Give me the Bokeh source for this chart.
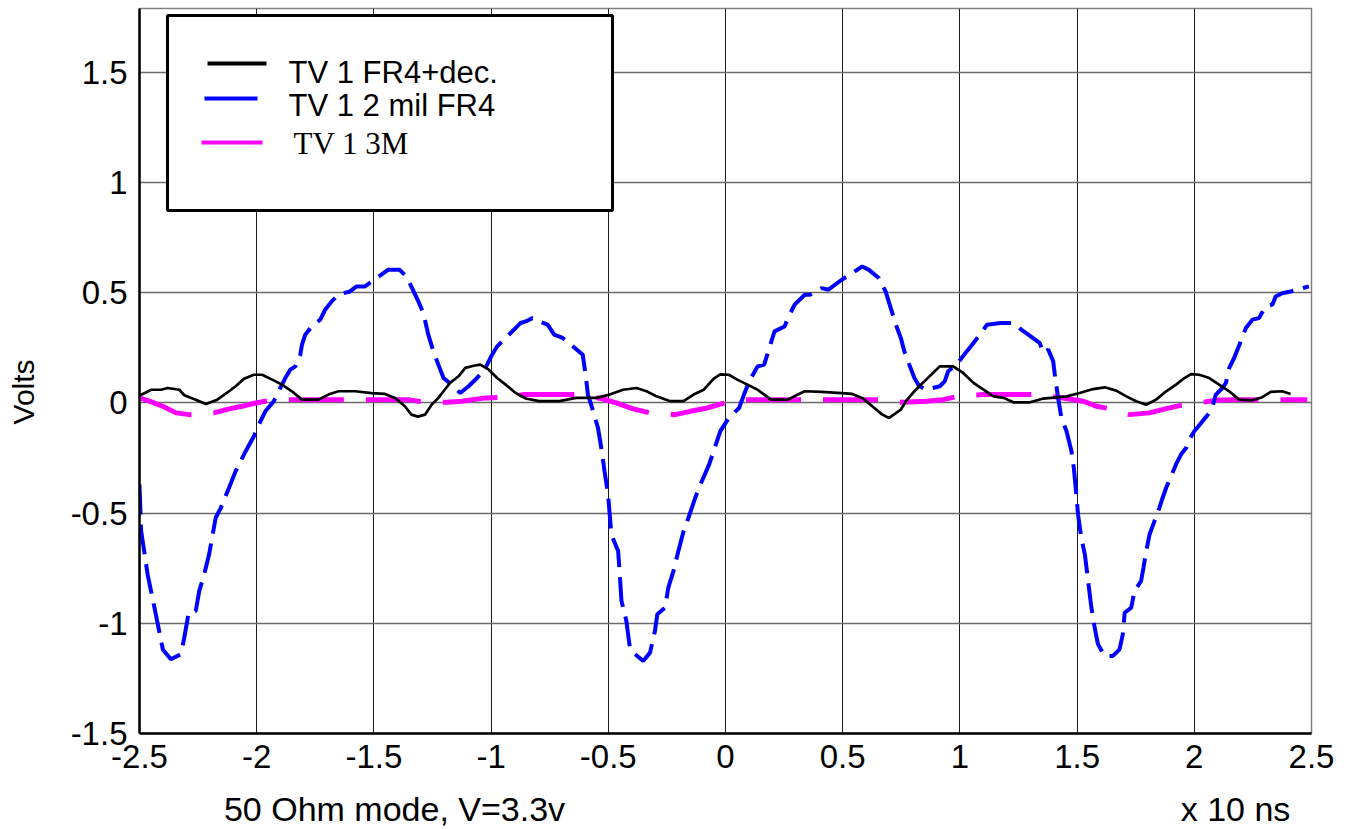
import math
from bokeh.plotting import figure
from bokeh.models import ColumnDataSource, FixedTicker, Label, BoxAnnotation, LinearAxis
from bokeh.embed import file_html
from bokeh.resources import INLINE

# ---------------- data ----------------
x_ticks = [-2.5, -2.0, -1.5, -1.0, -0.5, 0.0, 0.5, 1.0, 1.5, 2.0, 2.5]
x_tick_labels = ["-2.5", "-2", "-1.5", "-1", "-0.5", "0", "0.5", "1", "1.5", "2", "2.5"]
y_ticks = [-1.5, -1.0, -0.5, 0.0, 0.5, 1.0, 1.5]
y_tick_labels = ["-1.5", "-1", "-0.5", "0", "0.5", "1", "1.5"]

# bottom captions and where (in x units) they sit under the axis
caption_texts = ["50 Ohm mode, V=3.3v", "x 10 ns"]
caption_pos = [-1.412, 2.176]
# y title and where (in y units) it sits
y_title = "Volts"
y_title_pos = 0.05

series_names = ["TV 1   FR4+dec.", "TV 1  2 mil FR4", "TV 1  3M"]

blue_x = [-2.5, -2.493, -2.465, -2.436, -2.4, -2.366, -2.323, -2.309, -2.29, -2.26, -2.245, -2.224,
          -2.203, -2.175, -2.153, -2.118, -2.09, -2.047, -2.012, -1.984, -1.963, -1.927, -1.899,
          -1.878, -1.857, -1.835, -1.814, -1.807, -1.793, -1.765, -1.729, -1.708, -1.68, -1.651,
          -1.63, -1.602, -1.574, -1.538, -1.489, -1.44, -1.39, -1.362, -1.334, -1.31, -1.289,
          -1.268, -1.246, -1.225, -1.203, -1.168, -1.132, -1.096, -1.06, -1.024, -0.996, -0.974,
          -0.938, -0.903, -0.874, -0.852, -0.824, -0.795, -0.759, -0.731, -0.695, -0.659, -0.609,
          -0.595, -0.587, -0.573, -0.544, -0.53, -0.516, -0.501, -0.494, -0.487, -0.458, -0.451,
          -0.444, -0.423, -0.408, -0.394, -0.351, -0.322, -0.301, -0.291, -0.258, -0.244, -0.222,
          -0.201, -0.179, -0.158, -0.129, -0.107, -0.07, -0.045, -0.022, 0.014, 0.058, 0.079,
          0.101, 0.137, 0.165, 0.187, 0.209, 0.252, 0.273, 0.295, 0.338, 0.36, 0.41, 0.439, 0.496,
          0.54, 0.583, 0.612, 0.655, 0.683, 0.705, 0.727, 0.748, 0.763, 0.784, 0.806, 0.827, 0.856,
          0.914, 0.935, 0.95, 0.986, 1.029, 1.058, 1.079, 1.101, 1.115, 1.173, 1.228, 1.263, 1.292,
          1.341, 1.355, 1.377, 1.398, 1.405, 1.419, 1.433, 1.455, 1.476, 1.486, 1.494, 1.504, 1.518,
          1.533, 1.547, 1.561, 1.575, 1.589, 1.618, 1.653, 1.681, 1.695, 1.703, 1.731, 1.745, 1.773,
          1.783, 1.795, 1.809, 1.83, 1.851, 1.865, 1.88, 1.901, 1.922, 1.943, 1.965, 1.979, 2.0,
          2.035, 2.064, 2.078, 2.092, 2.12, 2.135, 2.149, 2.17, 2.198, 2.22, 2.248, 2.276, 2.304,
          2.333, 2.347, 2.375, 2.411, 2.489]
blue_y = [-0.37, -0.58, -0.78, -0.93, -1.12, -1.163, -1.14, -1.065, -0.95, -0.944, -0.853, -0.778,
          -0.687, -0.521, -0.476, -0.385, -0.31, -0.219, -0.151, -0.083, -0.038, 0.008, 0.068,
          0.113, 0.151, 0.166, 0.219, 0.264, 0.31, 0.347, 0.378, 0.423, 0.461, 0.491,
          0.498, 0.506, 0.529, 0.529, 0.566, 0.604, 0.604, 0.574, 0.514, 0.46, 0.408,
          0.31, 0.234, 0.174, 0.113, 0.083, 0.045, 0.076, 0.113, 0.159, 0.219, 0.257,
          0.295, 0.332, 0.363, 0.37, 0.385, 0.37, 0.355, 0.31, 0.295, 0.264, 0.219,
          0.113, 0.038, -0.008, -0.113, -0.204, -0.31, -0.415, -0.506, -0.597, -0.672, -0.778,
          -0.897, -0.989, -1.11, -1.133, -1.171, -1.133, -1.035, -0.959, -0.929, -0.838, -0.763,
          -0.672, -0.582, -0.521, -0.43, -0.37, -0.28, -0.2, -0.128, -0.068, -0.023, 0.038,
          0.098, 0.166, 0.174, 0.249, 0.325, 0.347, 0.4, 0.446, 0.491, 0.491, 0.521, 0.514, 0.559,
          0.589, 0.619, 0.604, 0.566, 0.506, 0.43, 0.355, 0.295, 0.234, 0.174, 0.113, 0.076, 0.06,
          0.076, 0.098, 0.144, 0.174, 0.234, 0.272, 0.302, 0.332, 0.355, 0.363, 0.363, 0.332, 0.31,
          0.272, 0.227, 0.242, 0.189, 0.128, 0.023, -0.068, -0.128, -0.219, -0.295, -0.385, -0.506, -0.612,
          -0.687, -0.808, -0.929, -1.02, -1.095, -1.148, -1.148, -1.118, -1.05, -0.952, -0.929, -0.853, -0.808,
          -0.748, -0.672, -0.597, -0.536, -0.476, -0.43, -0.385, -0.332, -0.279, -0.234, -0.204, -0.166, -0.128,
          -0.083, -0.045, -0.015, 0.038, 0.068, 0.091, 0.159, 0.204, 0.279, 0.34, 0.378, 0.385, 0.438,
          0.446, 0.483, 0.498, 0.506, 0.529]

black_x = [-2.5, -2.486, -2.45, -2.408, -2.38, -2.33, -2.309, -2.26, -2.217, -2.168, -2.118, -2.09,
           -2.054, -2.012, -1.977, -1.934, -1.892, -1.85, -1.807, -1.736, -1.694, -1.651, -1.58,
           -1.51, -1.453, -1.41, -1.368, -1.34, -1.312, -1.282, -1.254, -1.225, -1.203, -1.175,
           -1.139, -1.11, -1.074, -1.046, -1.01, -0.974, -0.938, -0.895, -0.852, -0.795, -0.709,
           -0.638, -0.552, -0.494, -0.437, -0.38, -0.337, -0.294, -0.236, -0.179, -0.136, -0.093,
           -0.05, -0.022, 0.014, 0.05, 0.094, 0.137, 0.165, 0.194, 0.266, 0.309, 0.338, 0.41, 0.496,
           0.54, 0.583, 0.626, 0.669, 0.698, 0.748, 0.77, 0.799, 0.827, 0.856, 0.885, 0.914, 0.971,
           1.014, 1.058, 1.101, 1.144, 1.187, 1.228, 1.299, 1.356, 1.455, 1.511, 1.568, 1.618, 1.667,
           1.71, 1.752, 1.795, 1.837, 1.88, 1.922, 1.958, 1.986, 2.021, 2.064, 2.106, 2.149, 2.191,
           2.248, 2.29, 2.326, 2.375, 2.411]
black_y = [0.035, 0.041, 0.06, 0.06, 0.068, 0.06, 0.035, 0.015, -0.005, 0.015, 0.053, 0.076,
           0.11, 0.128, 0.128, 0.106, 0.083, 0.053, 0.015, 0.015, 0.038, 0.053, 0.053,
           0.045, 0.041, 0.023, -0.015, -0.053, -0.062, -0.053, -0.008, 0.023, 0.053, 0.091,
           0.121, 0.159, 0.169, 0.174, 0.151, 0.113, 0.083, 0.045, 0.02, 0.008, 0.008,
           0.023, 0.023, 0.038, 0.06, 0.068, 0.053, 0.03, 0.008, 0.008, 0.038, 0.06,
           0.11, 0.13, 0.128, 0.106, 0.083, 0.06, 0.038, 0.015, 0.015, 0.038, 0.053, 0.05, 0.045,
           0.041, 0.023, -0.015, -0.053, -0.068, -0.03, 0.008, 0.045, 0.076, 0.106, 0.136, 0.166, 0.166,
           0.136, 0.091, 0.06, 0.03, 0.023, 0.003, 0.003, 0.02, 0.03, 0.045, 0.063, 0.071, 0.056,
           0.03, 0.008, -0.008, 0.015, 0.053, 0.083, 0.113, 0.131, 0.128, 0.113, 0.083, 0.053, 0.015,
           0.012, 0.026, 0.05, 0.053, 0.041]

magenta_x = [-2.5, -2.458, -2.401, -2.344, -2.288, -2.182, -2.118, -2.062, -2.005, -1.963, -1.871,
             -1.623, -1.524, -1.355, -1.3, -1.189, -1.125, -1.024, -0.953, -0.86, -0.616, -0.523,
             -0.466, -0.394, -0.322, -0.215, -0.15, -0.079, -0.021, 0.058, 0.309, 0.41, 0.662,
             0.755, 0.856, 0.928, 0.993, 1.101, 1.32, 1.419, 1.525, 1.582, 1.639, 1.724, 1.809,
             1.88, 1.943, 2.035, 2.092, 2.163, 2.269, 2.375, 2.482]
magenta_y = [0.023, 0.008, -0.015, -0.045, -0.053, -0.045, -0.027, -0.015, 0.0, 0.008, 0.015,
             0.015, 0.015, 0.015, 0.006, 0.003, 0.008, 0.023, 0.026, 0.038, 0.038, 0.018,
             0.0, -0.027, -0.045, -0.053, -0.038, -0.023, -0.005, 0.015, 0.015, 0.015, 0.015,
             0.003, 0.008, 0.015, 0.03, 0.038, 0.038, 0.026, 0.008, -0.015, -0.026, -0.053, -0.045,
             -0.026, -0.011, 0.003, 0.012, 0.015, 0.015, 0.015, 0.015]

# ---------------- figure ----------------
p = figure(frame_width=1172, frame_height=725, x_range=(-2.5, 2.5), y_range=(-1.5, 1.79),
           output_backend="svg", toolbar_location=None,
           min_border_left=139, min_border_right=41, min_border_top=8, min_border_bottom=96)
p.background_fill_color = "white"
p.border_fill_color = "white"
p.outline_line_color = "#808080"
p.outline_line_width = 1.5

p.xaxis.ticker = FixedTicker(ticks=x_ticks)
p.yaxis.ticker = FixedTicker(ticks=y_ticks)
p.xaxis.major_label_overrides = {t: l for t, l in zip(x_ticks, x_tick_labels)}
p.yaxis.major_label_overrides = {t: l for t, l in zip(y_ticks, y_tick_labels)}

for ax in (p.xaxis[0], p.yaxis[0]):
    ax.axis_line_color = "black"
    ax.axis_line_width = 2.5
    ax.major_tick_in = 0
    ax.major_tick_out = 0
    ax.minor_tick_line_color = None
    ax.major_label_text_font = "Liberation Sans"
    ax.major_label_text_font_size = "33px"
    ax.major_label_text_color = "black"
p.xaxis.major_label_standoff = 11
p.yaxis.major_label_standoff = 12


# tick-less helper axes that carry the titles at the reference's positions
def title_axis(pos, texts, size, standoff, orientation="horizontal"):
    ax = LinearAxis(ticker=FixedTicker(ticks=pos),
                    major_label_overrides={t: s for t, s in zip(pos, texts)})
    ax.axis_line_color = None
    ax.major_tick_line_color = None
    ax.minor_tick_line_color = None
    ax.major_tick_in = 0
    ax.major_tick_out = 0
    ax.major_label_standoff = standoff
    ax.major_label_orientation = orientation
    ax.major_label_text_font = "Liberation Sans"
    ax.major_label_text_font_size = size
    ax.major_label_text_color = "black"
    return ax


p.add_layout(title_axis(caption_pos, caption_texts, "34px", 19), "below")
p.add_layout(title_axis([y_title_pos], [y_title], "30px", 27, "vertical"), "left")

p.xgrid.grid_line_color = "#1a1a1a"
p.xgrid.grid_line_width = 1
p.ygrid.grid_line_color = "#6a6a6a"
p.ygrid.grid_line_width = 1.5

src_m = ColumnDataSource(dict(x=magenta_x, y=magenta_y))
src_b = ColumnDataSource(dict(x=blue_x, y=blue_y))
src_k = ColumnDataSource(dict(x=black_x, y=black_y))

p.line("x", "y", source=src_m, line_color="#ff00ff", line_width=5, line_dash="55 22")
p.line("x", "y", source=src_b, line_color="#0000ff", line_width=4, line_dash="30 10")
p.line("x", "y", source=src_k, line_color="black", line_width=2.7)

# ---------------- legend (manual) ----------------
p.add_layout(BoxAnnotation(left=28, right=473, top=718, bottom=523,
                           left_units="screen", right_units="screen",
                           top_units="screen", bottom_units="screen",
                           fill_color="white", fill_alpha=1.0,
                           line_color="black", line_width=3, line_alpha=1.0))
sample_colors = ["black", "#0000ff", "#ff00ff"]
sample_left = [68, 65, 62]
sample_right = [127, 118, 123]
sample_y = [670, 635, 591]
for c, l, r, yy in zip(sample_colors, sample_left, sample_right, sample_y):
    p.add_layout(BoxAnnotation(left=l, right=r, top=yy + 2, bottom=yy - 2,
                               left_units="screen", right_units="screen",
                               top_units="screen", bottom_units="screen",
                               fill_color=c, fill_alpha=1.0, line_alpha=0))
label_fonts = ["Liberation Sans", "Liberation Sans", "Liberation Serif"]
label_x = [149, 149, 154]
label_y = [661, 628, 590]
for name, f, lx, ly in zip(series_names, label_fonts, label_x, label_y):
    p.add_layout(Label(x=lx, y=ly, x_units="screen", y_units="screen", text=name,
                       text_font=f, text_font_size="31px", text_color="black",
                       text_baseline="alphabetic", text_align="left"))

open("out.html", "w").write(file_html(p, INLINE))
